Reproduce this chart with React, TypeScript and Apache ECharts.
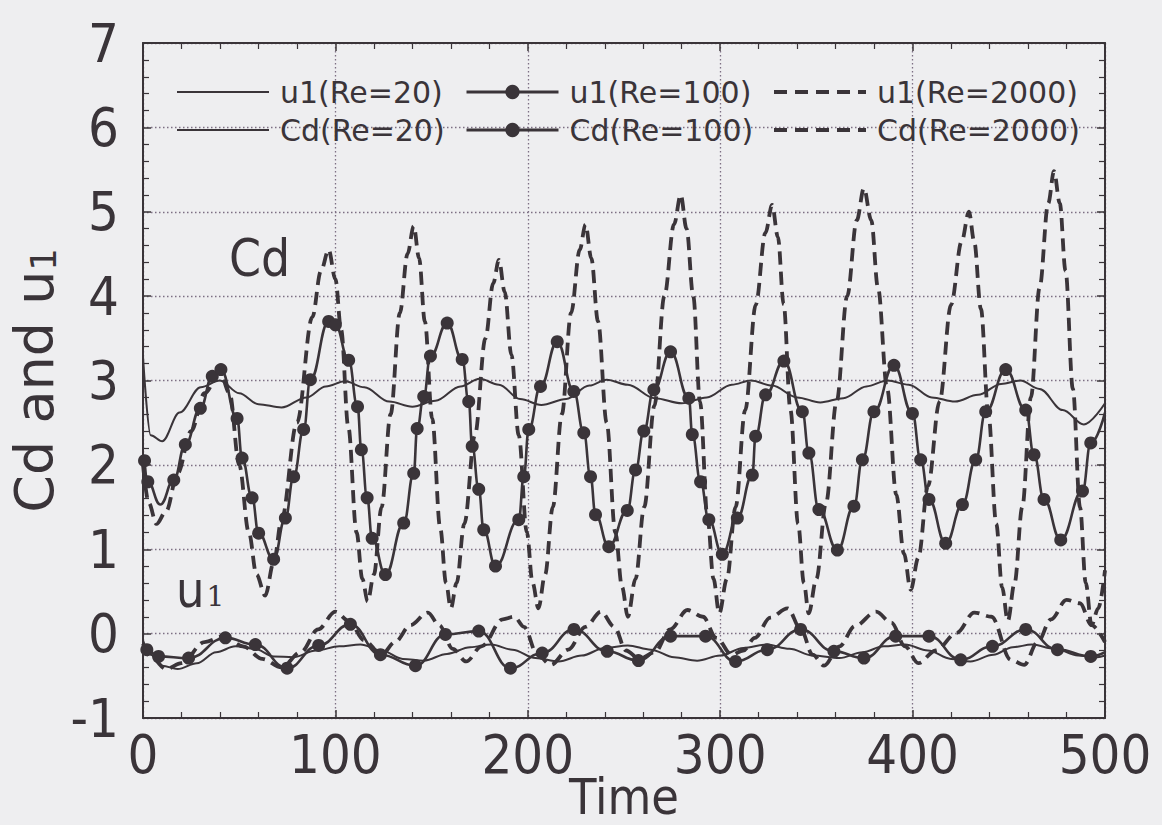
import React, { useEffect, useRef } from "react";
import * as echarts from "echarts";

// ---------------- data (time, value) ----------------
const seriesNames = [
  "u1(Re=20)",
  "u1(Re=100)",
  "u1(Re=2000)",
  "Cd(Re=20)",
  "Cd(Re=100)",
  "Cd(Re=2000)",
];

const u1Re20: number[][] = [
  [0, -0.08], [4, -0.25], [10, -0.38], [18, -0.42], [28, -0.35], [38, -0.22], [48, -0.15],
  [58, -0.18], [68, -0.27], [78, -0.28], [90, -0.2], [102, -0.15], [113, -0.13], [124, -0.2],
  [135, -0.3], [146, -0.32], [158, -0.24], [170, -0.16], [181, -0.13], [192, -0.19], [204, -0.29],
  [216, -0.33], [228, -0.26], [240, -0.17], [252, -0.14], [264, -0.19], [276, -0.28], [288, -0.32],
  [300, -0.26], [312, -0.17], [324, -0.13], [336, -0.18], [348, -0.26], [362, -0.29], [374, -0.22],
  [385, -0.15], [396, -0.13], [408, -0.2], [420, -0.3], [430, -0.33], [442, -0.25], [452, -0.16],
  [462, -0.13], [474, -0.18], [486, -0.26], [496, -0.28], [500, -0.26],
];

const u1Re100: number[][] = [
  [0, -0.12], [2, -0.19], [8.1, -0.27], [23.7, -0.29], [42.8, -0.05], [58.4, -0.13], [74.9, -0.41],
  [91.3, -0.14], [107.8, 0.11], [123.4, -0.25], [141.6, -0.38], [157.2, -0.01], [174.5, 0.03],
  [191, -0.41], [207.5, -0.23], [224, 0.05], [241.3, -0.21], [257.5, -0.32], [274.2, -0.03],
  [292.4, -0.03], [308, -0.33], [324.5, -0.19], [341.8, 0.05], [359.1, -0.21], [374.7, -0.29],
  [391.2, -0.03], [408.5, -0.03], [425, -0.31], [441.5, -0.15], [458.8, 0.05], [475.3, -0.19],
  [492.6, -0.27], [500, -0.22],
];
const u1Re100NoMarker = [0, 500];

const u1Re2000: number[][] = [
  [0, -0.12], [5, -0.3], [12, -0.42], [20, -0.35], [32, -0.1], [42, -0.03], [52, -0.15],
  [62, -0.3], [72, -0.4], [82, -0.22], [91, 0.05], [100, 0.26], [107, 0.15], [115, -0.08],
  [124, -0.25], [131, -0.1], [139, 0.1], [148, 0.25], [154, 0.1], [161, -0.18], [168, -0.33],
  [176, -0.15], [187, 0.17], [193, 0.2], [198, 0.08], [205, -0.25], [212, -0.37], [221, -0.19],
  [230, 0.08], [238, 0.26], [245, 0.08], [251, -0.2], [258, -0.3], [266, -0.22], [274, 0.05],
  [283, 0.28], [291, 0.2], [298, -0.05], [306, -0.25], [312, -0.2], [318, -0.05], [326, 0.19],
  [335, 0.3], [342, 0.05], [348, -0.25], [354, -0.38], [362, -0.15], [370, 0.09], [381, 0.26],
  [389, 0.13], [396, -0.15], [403, -0.35], [412, -0.2], [423, 0.01], [432, 0.25], [441, 0.2],
  [451, -0.31], [458, -0.37], [465, -0.1], [472, 0.17], [480, 0.4], [487, 0.36], [493, 0.1],
  [500, -0.1],
];

const cdRe20: number[][] = [
  [0, 3.28], [4, 2.35], [10, 2.28], [19, 2.62], [30, 2.92], [40, 3.0], [50, 2.85], [60, 2.72],
  [72, 2.68], [85, 2.8], [95, 2.93], [105, 2.99], [115, 2.92], [128, 2.75], [140, 2.69],
  [152, 2.76], [165, 2.93], [175, 3.02], [185, 2.95], [196, 2.78], [207, 2.71], [220, 2.78],
  [232, 2.94], [241, 3.01], [252, 2.95], [266, 2.79], [280, 2.73], [293, 2.8], [306, 2.95],
  [316, 3.0], [327, 2.94], [340, 2.8], [352, 2.74], [364, 2.79], [376, 2.93], [387, 3.0],
  [398, 2.95], [410, 2.8], [422, 2.75], [434, 2.83], [446, 2.96], [456, 3.0], [466, 2.9],
  [478, 2.65], [489, 2.48], [500, 2.73],
];

const cdRe100: number[][] = [
  [0.8, 2.05], [2.5, 1.8], [9, 1.53], [16, 1.82], [22, 2.24], [29.8, 2.67], [36, 3.05],
  [40.5, 3.13], [48.9, 2.55], [51.5, 2.08], [56.7, 1.61], [60.1, 1.19], [67.9, 0.88], [74, 1.37],
  [78.3, 1.86], [83.5, 2.42], [87, 3.01], [96.5, 3.7], [100, 3.66], [106.9, 3.24], [111.5, 2.69],
  [113.5, 2.18], [116.5, 1.61], [119.1, 1.13], [126, 0.7], [135.5, 1.31], [140.7, 1.9],
  [142.5, 2.43], [145.9, 2.81], [149.4, 3.29], [158.1, 3.68], [165.9, 3.25], [169.3, 2.75],
  [171.1, 2.22], [174.5, 1.71], [177.1, 1.23], [183.2, 0.8], [195.3, 1.35], [197.9, 1.86],
  [200.5, 2.42], [206.6, 2.93], [215.3, 3.46], [223.9, 2.87], [229.1, 2.38], [232.6, 1.86],
  [235.2, 1.41], [242.1, 1.03], [251.7, 1.46], [256, 1.94], [260.3, 2.4], [265.5, 2.89],
  [274.2, 3.34], [283.7, 2.79], [285.5, 2.36], [289.8, 1.8], [294.1, 1.35], [301.1, 0.94],
  [308.9, 1.37], [316.7, 1.88], [318.4, 2.34], [323.6, 2.83], [333.1, 3.23], [342.7, 2.63],
  [346.1, 2.14], [351.3, 1.47], [360.9, 0.99], [369.5, 1.51], [373.9, 2.06], [379.9, 2.63],
  [390.3, 3.18], [399.9, 2.61], [404.2, 2.06], [408.5, 1.59], [417.2, 1.07], [425.9, 1.53],
  [432.8, 2.06], [438, 2.63], [448.4, 3.13], [458.8, 2.65], [463.1, 2.12], [468.3, 1.59],
  [477, 1.11], [488.3, 1.69], [492.6, 2.26], [500, 2.62],
];
const cdRe100NoMarker = [9, 500];

const cdRe2000: number[][] = [
  [0, 2.0], [3, 1.55], [7, 1.3], [12, 1.45], [18, 1.9], [25, 2.4], [32, 2.85], [40, 3.1],
  [45, 2.85], [50, 2.0], [55, 1.2], [59, 0.7], [63.5, 0.45],
  [68, 0.85], [72, 1.35], [80, 2.5], [88, 3.75], [92.5, 4.3], [96.5, 4.55],
  [100, 4.2], [103, 3.6], [106.7, 2.45], [111, 1.2], [114, 0.65], [116.8, 0.38],
  [120, 0.7], [124, 1.5], [128.7, 2.6], [133.5, 3.8], [137.5, 4.5], [140.7, 4.83],
  [143.5, 4.45], [146.5, 3.7], [150.3, 2.55], [154.5, 1.25], [157.5, 0.6], [160, 0.3],
  [163, 0.6], [167, 1.3], [172.5, 2.35], [178, 3.5], [182, 4.15], [185, 4.43],
  [188, 4.05], [191.5, 3.3], [195.3, 2.35], [199.5, 1.2], [202.5, 0.6], [205.5, 0.3],
  [209, 0.7], [213, 1.5], [217.7, 2.6], [222.5, 3.8], [227, 4.55], [230, 4.85],
  [233, 4.45], [236.5, 3.7], [241, 2.5], [245.5, 1.2], [249, 0.55], [252, 0.2],
  [256, 0.65], [260.5, 1.5], [265.8, 2.7], [271, 4.0], [276, 4.85], [279.5, 5.2],
  [282.5, 4.8], [286, 4.0], [289.5, 2.75], [293.5, 1.35], [296.5, 0.65], [299.5, 0.24],
  [303.5, 0.65], [308, 1.5], [313, 2.65], [318.5, 3.9], [323.5, 4.75], [327, 5.08],
  [330, 4.7], [333, 3.9], [336.5, 2.65], [340.5, 1.3], [343.5, 0.6], [346, 0.24],
  [350, 0.65], [355, 1.55], [360.5, 2.75], [366, 4.0], [371, 4.9], [374.7, 5.28],
  [378.5, 4.9], [382, 4.1], [386.8, 2.9], [391.5, 1.65], [395.5, 0.95], [399, 0.52],
  [403, 0.9], [408, 1.75], [414, 2.75], [420, 3.9], [425.5, 4.65], [429.3, 5.0],
  [432, 4.65], [435.5, 3.85], [439.4, 2.6], [443.5, 1.3], [446.5, 0.55], [449.5, 0.15],
  [453, 0.6], [457, 1.5], [461.5, 2.8], [466, 4.1], [470.5, 5.1], [473.5, 5.48],
  [476.5, 5.1], [479.5, 4.3], [483.3, 2.9], [487, 1.5], [490, 0.6], [493, 0.1],
  [496.5, 0.3], [500, 0.75],
];

const xMin = 0;
const xMax = 500;
const xStep = 100;
const yMin = -1;
const yMax = 7;
const yStep = 1;

// ---------------- styles ----------------
const INK = "#3a3439";
const GRID = "#7d6f83";
const BG = "#eeeef0";
const COND_FONT = "'DejaVu Sans Condensed', 'DejaVu Sans', sans-serif";
const WIDE_FONT = "'DejaVu Sans', sans-serif";

function withHidden(points: number[][], hidden: number[]) {
  return points.map((p) =>
    hidden.includes(p[0]) ? { value: p, symbol: "none" } : p
  );
}

export default function App() {
  const ref = useRef<HTMLDivElement>(null);

  useEffect(() => {
    document.body.style.margin = "0";
    document.body.style.background = BG;
    if (!ref.current) return;
    const chart = echarts.init(ref.current, null, { renderer: "svg" });

    const baseAxis = {
      type: "value" as const,
      nameMoveOverlap: false,
      axisLine: { show: true, onZero: false, lineStyle: { color: INK, width: 2 } },
      axisTick: { show: true, inside: true, length: 8, lineStyle: { color: INK, width: 1.5 } },
      minorTick: { show: true, splitNumber: 5, length: 6, lineStyle: { color: INK, width: 1.2 } },
    };

    const kind = ["thin", "marker", "dash", "thin", "marker", "dash"];
    const legendLine: Record<string, any> = {
      thin: { width: 2, type: "solid" },
      marker: { width: 3, type: "solid" },
      dash: { width: 4, type: [13, 8] },
    };
    const legendCols = [171, 460, 767];
    const legendRows = [72, 110];
    const legends = seriesNames.map((n, i) => ({
      data: [n],
      left: legendCols[i % 3],
      top: legendRows[Math.floor(i / 3)],
      itemWidth: 92,
      itemHeight: 18,
      itemGap: 0,
      selectedMode: false,
      lineStyle: { color: INK, ...legendLine[kind[i]] },
      itemStyle:
        kind[i] === "marker"
          ? { color: INK, borderWidth: 0 }
          : { color: "rgba(0,0,0,0)", borderColor: "rgba(0,0,0,0)", borderWidth: 0, opacity: 0 },
      textStyle: {
        fontSize: 30,
        fontFamily: WIDE_FONT,
        color: INK,
        padding: [0, 0, 0, 6],
      },
    }));

    const lineSeries = (
      name: string,
      data: any[],
      opts: { width: number; dashed?: boolean; marker?: boolean }
    ) => ({
      name,
      type: "line",
      data,
      smooth: opts.marker ? 0.45 : 0.35,
      smoothMonotone: "x",
      symbol: opts.marker ? "circle" : "none",
      symbolSize: 13,
      showSymbol: !!opts.marker,
      itemStyle: { color: INK, borderWidth: 0 },
      lineStyle: {
        color: INK,
        width: opts.width,
        type: opts.dashed ? [13, 7] : "solid",
      },
      emphasis: { disabled: true },
      z: opts.marker ? 4 : 3,
    });

    chart.setOption({
      animation: false,
      backgroundColor: BG,
      grid: {
        left: 143,
        right: 57,
        top: 43,
        bottom: 107,
        containLabel: false,
        outerBoundsMode: "none",
      },
      legend: legends,
      xAxis: [
        {
          ...baseAxis,
          min: xMin,
          max: xMax,
          interval: xStep,
          position: "bottom",
          name: "Time",
          nameLocation: "middle",
          nameGap: 54,
          nameTextStyle: { fontSize: 50, fontFamily: COND_FONT, color: INK },
          axisLabel: { fontSize: 54, fontFamily: COND_FONT, color: INK, margin: 9 },
          splitLine: { show: true, lineStyle: { color: GRID, width: 1.3, type: [1.5, 2.5] } },
        },
        {
          ...baseAxis,
          min: xMin,
          max: xMax,
          interval: xStep,
          position: "top",
          axisLabel: { show: false },
          splitLine: { show: false },
        },
      ],
      yAxis: [
        {
          ...baseAxis,
          min: yMin,
          max: yMax,
          interval: yStep,
          position: "left",
          name: "{a|Cd and u}{b|1}",
          nameLocation: "middle",
          nameGap: 82,
          nameTextStyle: {
            color: INK,
            rich: {
              a: { fontSize: 54, fontFamily: WIDE_FONT, color: INK },
              b: { fontSize: 35, fontFamily: WIDE_FONT, color: INK, verticalAlign: "bottom" },
            },
          },
          axisLabel: { fontSize: 54, fontFamily: COND_FONT, color: INK, margin: 24 },
          splitLine: { show: true, lineStyle: { color: GRID, width: 1.3, type: [1.5, 2.5] } },
        },
        {
          ...baseAxis,
          min: yMin,
          max: yMax,
          interval: yStep,
          position: "right",
          axisLabel: { show: false },
          splitLine: { show: false },
        },
      ],
      graphic: [
        {
          type: "text",
          left: 229,
          top: 233,
          style: { text: "Cd", fontSize: 51, fontFamily: COND_FONT, fill: INK },
          silent: true,
        },
        {
          type: "text",
          left: 176,
          top: 565,
          style: {
            text: "{a|u}{b|1}",
            rich: {
              a: { fontSize: 50, fontFamily: COND_FONT, fill: INK, color: INK },
              b: {
                fontSize: 28,
                fontFamily: "'DejaVu Serif', serif",
                fill: INK,
                color: INK,
                padding: [12, 0, 0, 2],
              },
            },
          },
          silent: true,
        },
      ],
      series: [
        lineSeries(seriesNames[0], u1Re20, { width: 2 }),
        lineSeries(seriesNames[1], withHidden(u1Re100, u1Re100NoMarker), { width: 2.6, marker: true }),
        lineSeries(seriesNames[2], u1Re2000, { width: 3.8, dashed: true }),
        lineSeries(seriesNames[3], cdRe20, { width: 2 }),
        lineSeries(seriesNames[4], withHidden(cdRe100, cdRe100NoMarker), { width: 2.6, marker: true }),
        lineSeries(seriesNames[5], cdRe2000, { width: 3.8, dashed: true }),
      ],
    });

    return () => chart.dispose();
  }, []);

  return <div ref={ref} style={{ width: 1162, height: 825, background: BG }} />;
}
